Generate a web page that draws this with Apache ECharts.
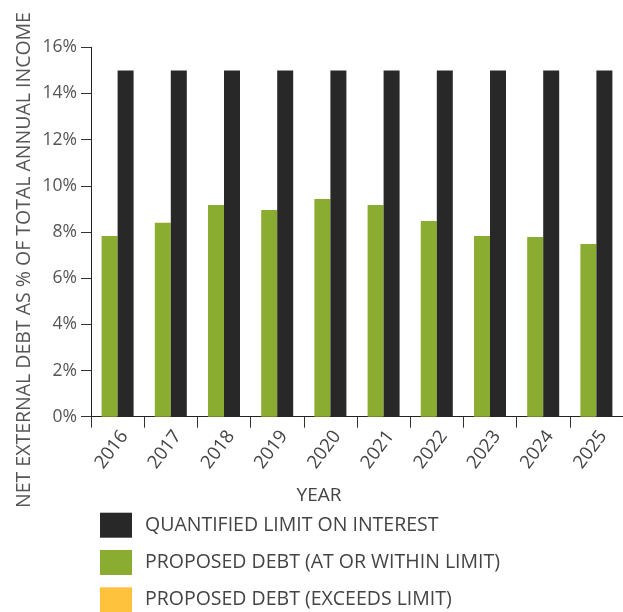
<!DOCTYPE html>
<html>
<head>
<meta charset="utf-8">
<script src="https://cdn.jsdelivr.net/npm/echarts@6/dist/echarts.min.js"></script>
<style>
html,body{margin:0;padding:0;background:#fff;}
#main{width:623px;height:612px;}
</style>
</head>
<body>
<div id="main"></div>
<script>
var years = ['2016','2017','2018','2019','2020','2021','2022','2023','2024','2025'];
var limitValues = [15,15,15,15,15,15,15,15,15,15];
var proposedWithin = [7.83,8.4,9.17,8.95,9.43,9.17,8.48,7.83,7.78,7.48];
var proposedExceeds = [null,null,null,null,null,null,null,null,null,null];
var yTicks = {min:0, max:16, interval:2};
var seriesNames = ['QUANTIFIED LIMIT ON INTEREST','PROPOSED DEBT (AT OR WITHIN LIMIT)','PROPOSED DEBT (EXCEEDS LIMIT)'];
var yTitle = 'NET EXTERNAL DEBT AS % OF TOTAL ANNUAL INCOME';
var xTitle = 'YEAR';

var FONT = 'Open Sans';
function legendFor(name, top){
  return {
    orient:'vertical', left:100, top:top, padding:0,
    itemWidth:32, itemHeight:25, itemGap:0, icon:'rect',
    selectedMode:false,
    data:[name],
    textStyle:{fontFamily:FONT, fontSize:19.5, color:'#444', padding:[0,0,0,8]}
  };
}
var chart = echarts.init(document.getElementById('main'), null, {renderer:'canvas'});
chart.setOption({
  animation:false,
  textStyle:{fontFamily:FONT},
  grid:{left:91, top:47.3, width:535, height:369.4, containLabel:false},
  legend:[legendFor(seriesNames[0],512.7), legendFor(seriesNames[1],550), legendFor(seriesNames[2],587.3)],
  xAxis:{
    type:'category', data:years,
    axisLine:{lineStyle:{color:'#222', width:1}},
    axisTick:{show:true, length:11, lineStyle:{color:'#333'}},
    axisLabel:{rotate:53, color:'#444', fontSize:18.5, fontFamily:FONT, margin:11,
               verticalAlign:'top', lineHeight:17}
  },
  yAxis:{
    type:'value', min:yTicks.min, max:yTicks.max, interval:yTicks.interval,
    axisLine:{show:true, lineStyle:{color:'#222'}},
    axisTick:{show:true, length:10, lineStyle:{color:'#333'}},
    axisLabel:{formatter:'{value}%', color:'#555', fontSize:17.5, fontFamily:FONT, margin:14},
    splitLine:{show:false}
  },
  graphic:[
    {type:'text', x:24, y:260, rotation:Math.PI/2,
     style:{text:yTitle, fill:'#555', font:'19.5px "Open Sans"', align:'center', verticalAlign:'middle'}},
    {type:'text', x:319, y:496,
     style:{text:xTitle, fill:'#444', font:'19px "Open Sans"', align:'center', verticalAlign:'middle'}}
  ],
  series:[
    {name:seriesNames[1], type:'bar', stack:'p', data:proposedWithin, barWidth:16, barGap:'0%', itemStyle:{color:'#8AAC30'}},
    {name:seriesNames[2], type:'bar', stack:'p', data:proposedExceeds, barWidth:16, barGap:'0%', itemStyle:{color:'#FFC23D'}},
    {name:seriesNames[0], type:'bar', data:limitValues, barWidth:16, barGap:'0%', itemStyle:{color:'#282828'}}
  ]
});
</script>
</body>
</html>
